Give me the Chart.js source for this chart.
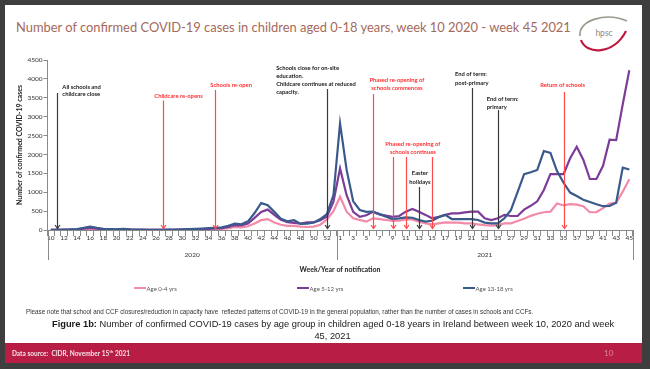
<!DOCTYPE html>
<html><head><meta charset="utf-8">
<script src="https://cdn.jsdelivr.net/npm/chart.js@4"></script>
<style>
html,body{margin:0;padding:0;}
body{width:650px;height:369px;background:#3e3e3e;position:relative;overflow:hidden;font-family:Lato,'Liberation Sans',sans-serif;}
#slide{position:absolute;left:5px;top:5px;width:637px;height:338px;background:#fff;}
#footer{position:absolute;left:5px;top:343px;width:637px;height:20px;background:#b81d45;}
#chart{position:absolute;left:0;top:0;width:650px;height:369px;}
.t{position:absolute;white-space:nowrap;}
#title{left:16px;top:18.5px;font-size:12.9px;line-height:16px;color:#a46a5c;}
#notes{left:26px;top:307.5px;font-family:'Liberation Sans',Arial,sans-serif;font-size:6.3px;line-height:8px;color:#333;}
#caption{left:52px;width:561px;top:319px;text-align:center;font-family:'Liberation Sans',Arial,sans-serif;font-size:9.3px;line-height:11.7px;color:#1a1a1a;}
#source{left:12px;top:348.5px;font-size:6.5px;line-height:9px;font-weight:bold;color:#f6e0e6;}
#source sup{font-size:4.5px;vertical-align:top;line-height:6px;}
#pageno{left:604px;top:348px;font-size:8px;line-height:10px;color:#d98ba0;}
.lg{position:absolute;top:284px;height:8px;display:flex;align-items:center;font-size:6px;color:#555;white-space:nowrap;}
.lg i{display:inline-block;width:12px;height:2px;margin-right:1px;}
</style></head><body>
<div id="slide"></div>
<div id="footer"></div>
<div class="t" id="title">Number of confirmed COVID-19 cases in children aged 0-18 years, week 10 2020 - week 45 2021</div>
<svg style="position:absolute;left:0;top:0" width="650" height="369">
  <path d="M580,36 C578,20 606,12 627,21" fill="none" stroke="#9a9a8e" stroke-width="1.6"/>
  <path d="M581,40 C586,55 614,55 626,31" fill="none" stroke="#c0183f" stroke-width="2.2"/>
  <text x="604" y="36" font-family="Lato, sans-serif" font-size="8.5" fill="#8a8a8a" text-anchor="middle">hpsc</text>
</svg>
<canvas id="chart" width="650" height="369"></canvas>
<div id="legend"></div>
<div class="t" id="notes">Please note that school and CCF closures/reduction in capacity have&nbsp; reflected patterns of COVID-19 in the general population, rather than the number of cases in schools and CCFs.</div>
<div class="t" id="caption"><b>Figure 1b:</b> Number of confirmed COVID-19 cases by age group in children aged 0-18 years in Ireland between week 10, 2020 and week<br>45, 2021</div>
<div class="t" id="source">Data source:&nbsp; CIDR, November 15<sup>th</sup> 2021</div>
<div class="t" id="pageno">10</div>
<script>
// ---------- data ----------
const weeks2020 = [10,11,12,13,14,15,16,17,18,19,20,21,22,23,24,25,26,27,28,29,30,31,32,33,34,35,36,37,38,39,40,41,42,43,44,45,46,47,48,49,50,51,52,53];
const weeks2021 = [1,2,3,4,5,6,7,8,9,10,11,12,13,14,15,16,17,18,19,20,21,22,23,24,25,26,27,28,29,30,31,32,33,34,35,36,37,38,39,40,41,42,43,44,45];
const yearLabels = ['2020','2021'];

const age0_4_2020 = [1,2,4,6,10,20,30,20,12,10,8,10,6,4,3,3,3,3,4,5,6,8,12,15,20,25,30,50,80,70,100,170,260,290,200,140,110,110,90,80,90,140,280,500];
const age0_4_2021 = [880,485,310,265,220,310,290,265,240,245,280,280,220,175,150,175,200,195,195,175,175,150,130,115,130,175,175,240,300,375,430,470,485,700,650,685,670,630,470,475,580,700,720,1015,1345];

const age5_12_2020 = [1,3,6,10,15,35,55,35,20,15,12,15,10,6,5,4,4,4,5,6,8,12,18,25,30,40,50,80,130,120,170,320,480,540,400,270,210,190,170,200,200,260,360,750];
const age5_12_2021 = [1630,920,480,350,390,480,415,380,350,370,485,555,485,400,310,350,400,440,440,465,485,485,310,265,310,400,370,370,540,640,760,1060,1480,1480,1480,1900,2205,1860,1350,1350,1700,2390,2380,3330,4230];

const age13_18_2020 = [2,5,10,15,25,55,90,55,30,25,20,30,15,10,8,6,5,6,8,10,15,22,30,40,50,60,70,110,170,150,230,450,715,655,480,300,230,260,160,165,200,290,420,930];
const age13_18_2021 = [2820,1590,760,530,480,490,420,350,290,310,335,325,265,220,245,335,400,290,290,290,290,265,195,175,175,310,530,1000,1480,1530,1590,2090,2040,1560,1250,990,900,800,740,680,630,640,720,1650,1600];

const seriesNames = ['Age 0-4 yrs','Age 5-12 yrs','Age 13-18 yrs'];
const yAxisTitle = 'Number of confirmed COVID-19 cases';
const xAxisTitle = 'Week/Year of notification';

// annotations: year, week(s), text lines, kind
const annotations = [
  {year:2020, weeks:[11], lines:['All schools and','childcare close'], kind:'black'},
  {year:2020, weeks:[27], lines:['Childcare re-opens'], kind:'red'},
  {year:2020, weeks:[35], lines:['Schools re-open'], kind:'red'},
  {year:2020, weeks:[52], lines:['Schools close for on-site','education.','Childcare continues at reduced','capacity.'], kind:'black'},
  {year:2021, weeks:[6], lines:['Phased re-opening of','schools commences'], kind:'red'},
  {year:2021, weeks:[9,11,15], lines:['Phased re-opening of','schools continues'], kind:'red'},
  {year:2021, weeks:[13], lines:['Easter','holidays'], kind:'black'},
  {year:2021, weeks:[21], lines:['End of term:','post-primary'], kind:'black'},
  {year:2021, weeks:[25], lines:['End of term:','primary'], kind:'black'},
  {year:2021, weeks:[35], lines:['Return of schools'], kind:'red'}
];

// ---------- layout / style ----------
const annotLayout = [
  {align:'left', dx:5, ys:[86.7,94.3], top:93},
  {align:'center', dx:16, ys:[96.3], top:100.5},
  {align:'center', dx:16, ys:[84.7], top:90},
  {align:'left', dx:-50.7, ys:[68,76.3,84.5,92.5], top:89},
  {align:'center', dx:24, ys:[80,88.3], top:94},
  {align:'center', dx:0.5, ys:[144,152.3], top:157},
  {align:'center', dx:1, ys:[173.3,181.7], top:187},
  {align:'left', dx:-16.5, ys:[74.3,83.3], top:88},
  {align:'left', dx:-11, ys:[99,107.3], top:110},
  {align:'center', dx:-1, ys:[85], top:92}
];
const kindStyle = {
  black:{text:'#1a1a1a', line:'#3a3a3a'},
  red:{text:'#ff3030', line:'#ff4a4a'}
};
const colors = ['#f28aa8','#7d3c98','#3a5a8c'];
const legendLefts = [133.5, 296.5, 462.5];
const FONT = 'Lato, "Liberation Sans", sans-serif';

// ---------- build ----------
const categories = weeks2020.map(String).concat(weeks2021.map(String));
const catIndex = (y,w) => y===2020 ? weeks2020.indexOf(w) : weeks2020.length + weeks2021.indexOf(w);
const seriesData = [
  age0_4_2020.concat(age0_4_2021),
  age5_12_2020.concat(age5_12_2021),
  age13_18_2020.concat(age13_18_2021)
];

const sepPlugin = {
  id:'sep',
  afterDraw(chart){
    const xs = chart.scales.x, ctx = chart.ctx;
    const y0 = xs.top, y1 = xs.top + 30;
    const n1 = weeks2020.length;
    const mid = (xs.getPixelForValue(n1-1) + xs.getPixelForValue(n1)) / 2;
    const bounds = [xs.left, mid, xs.right];
    ctx.save();
    ctx.strokeStyle = '#8a8a8a'; ctx.lineWidth = 1;
    bounds.forEach(b => { const x = Math.round(b)+0.5; ctx.beginPath(); ctx.moveTo(x,y0); ctx.lineTo(x,y1); ctx.stroke(); });
    ctx.fillStyle = '#333'; ctx.font = '6.5px ' + FONT; ctx.textAlign='center'; ctx.textBaseline='middle';
    ctx.fillText(yearLabels[0], (bounds[0]+bounds[1])/2, y0+25);
    ctx.fillText(yearLabels[1], (bounds[1]+bounds[2])/2, y0+25);
    ctx.restore();
  }
};

const annotPlugin = {
  id:'annot',
  afterDatasetsDraw(chart){
    const xs = chart.scales.x, ys = chart.scales.y, ctx = chart.ctx;
    const base = ys.getPixelForValue(0);
    ctx.save();
    annotations.forEach((a,k) => {
      const L = annotLayout[k], st = kindStyle[a.kind];
      const px = a.weeks.map(w => xs.getPixelForValue(catIndex(a.year,w)));
      ctx.strokeStyle = st.line; ctx.lineWidth = 1.2;
      px.forEach(x0 => {
        const x = Math.round(x0)+0.5;
        ctx.beginPath(); ctx.moveTo(x, L.top); ctx.lineTo(x, base-1.5); ctx.stroke();
        ctx.beginPath(); ctx.moveTo(x-2.5, base-5); ctx.lineTo(x, base-1.5); ctx.lineTo(x+2.5, base-5); ctx.stroke();
      });
      ctx.fillStyle = st.text; ctx.font = 'bold 5.8px ' + FONT; ctx.textBaseline = 'middle';
      let tx;
      if (L.align === 'left') { tx = px[0] + L.dx; ctx.textAlign = 'left'; }
      else { tx = (px[0] + px[px.length-1]) / 2 + L.dx; ctx.textAlign = 'center'; }
      a.lines.forEach((s,i) => ctx.fillText(s, tx, L.ys[i]));
    });
    ctx.restore();
  }
};

const chart = new Chart(document.getElementById('chart'), {
  type:'line',
  data:{
    labels: categories,
    datasets: seriesNames.map((nm,i) => ({
      label: nm, data: seriesData[i], borderColor: colors[i], backgroundColor: colors[i],
      borderWidth: 2.2, pointRadius: 0, tension: 0, fill: false, order: 2-i
    }))
  },
  options:{
    responsive:false, animation:false, devicePixelRatio:1,
    layout:{padding:{left:16, top:60, right:17.4, bottom:89}},
    plugins:{legend:{display:false}, tooltip:{enabled:false}},
    scales:{
      x:{
        type:'category', offset:true,
        grid:{display:true, drawOnChartArea:false, drawTicks:true, tickLength:6, color:'#8a8a8a', lineWidth:1, offset:true},
        border:{display:true, color:'#8a8a8a', width:1},
        ticks:{autoSkip:false, maxRotation:0, minRotation:0, padding:-2, color:'#333', font:{family:FONT, size:6.5},
               callback:(v,i) => i%2===0 ? categories[i] : ''},
        title:{display:true, text:xAxisTitle, color:'#222', font:{family:FONT, size:7, weight:'bold'}, padding:{top:0, bottom:5.8}},
        afterFit(s){ s.height = 50; }
      },
      y:{
        min:0, max:4500,
        ticks:{stepSize:500, padding:1, color:'#333', font:{family:FONT, size:6.5}, callback:(v) => String(v)},
        grid:{display:true, drawOnChartArea:false, drawTicks:true, tickLength:4, color:'#8a8a8a'},
        border:{display:true, color:'#8a8a8a', width:1},
        title:{display:true, text:yAxisTitle, color:'#222', font:{family:FONT, size:7, weight:'bold'}, padding:0},
        afterFit(s){ s.width = 31.5; }
      }
    }
  },
  plugins:[sepPlugin, annotPlugin]
});

// HTML legend from datasets
const lg = document.getElementById('legend');
chart.data.datasets.forEach((d,i) => {
  const el = document.createElement('div');
  el.className = 'lg'; el.style.left = legendLefts[i] + 'px';
  el.innerHTML = '<i style="background:' + d.borderColor + '"></i>' + d.label;
  lg.appendChild(el);
});
</script>
</body></html>
